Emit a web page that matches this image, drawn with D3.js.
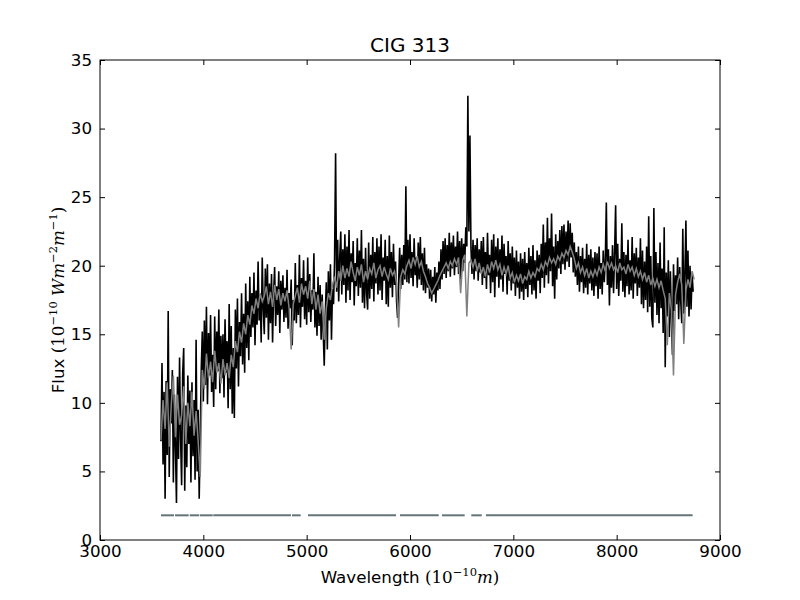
<!DOCTYPE html>
<html>
<head>
<meta charset="utf-8">
<script src="https://cdn.jsdelivr.net/npm/d3@7/dist/d3.min.js"></script>
<style>
  body { margin: 0; background: #fff; }
  svg { display: block; }
  text { font-family: "DejaVu Sans", sans-serif; }
</style>
</head>
<body>
<svg id="chart" width="800" height="600"></svg>
<script>
// ---------------- DATA ----------------
const title = "CIG 313";
const xTicks = [3000, 4000, 5000, 6000, 7000, 8000, 9000];
const yTicks = [0, 5, 10, 15, 20, 25, 30, 35];

// observed spectrum (black): sampled every 10 Å starting at 3590 Å
const obsStart = 3590, obsStep = 10;
const obsFlux = [
  7.2,12.9,5.5,10.8,3.0,11.6,6.2,16.7,4.6,11.0,
  8.5,12.4,4.2,10.6,6.8,2.7,11.9,5.9,13.3,7.4,
  4.0,12.1,14.0,3.6,9.8,5.3,12.0,7.0,10.9,4.2,
  11.5,6.1,10.2,4.4,14.6,5.0,9.5,3.0,7.5,12.5,
  15.2,10.1,16.0,11.3,17.0,9.9,15.1,12.0,16.4,10.8,
  13.5,9.7,16.3,11.0,15.2,12.3,16.8,10.7,14.9,11.8,
  15.0,10.4,16.1,12.2,14.5,9.6,17.2,11.0,15.6,9.2,
  14.0,8.9,16.8,12.5,17.6,11.2,15.9,13.4,18.0,12.8,
  16.5,12.2,18.7,14.0,17.4,13.1,19.2,14.8,18.0,15.5,
  19.5,14.2,18.2,15.7,20.3,16.0,17.9,14.4,20.6,16.8,
  15.0,19.8,16.2,20.1,14.6,18.7,15.8,19.4,14.4,17.9,
  19.9,15.6,18.5,16.4,19.6,15.1,18.9,16.8,19.3,15.9,
  18.4,16.2,19.7,15.4,18.0,16.9,19.0,14.2,17.5,16.0,
  20.2,15.8,18.6,16.4,20.8,15.5,19.1,17.0,20.4,16.1,
  18.9,15.7,20.6,16.6,19.4,15.9,18.2,16.8,20.9,15.5,
  18.1,14.9,19.2,15.6,18.6,14.6,17.9,15.2,12.7,16.4,
  18.8,13.9,19.6,16.0,20.1,14.6,18.3,17.2,20.4,28.2,
  18.1,21.9,17.4,20.6,22.5,17.9,21.2,18.6,22.3,17.3,
  21.4,18.2,22.6,17.5,20.9,18.8,21.8,17.1,20.2,18.5,
  22.0,17.8,21.1,18.4,22.6,17.3,20.5,16.9,21.3,18.0,
  16.8,21.7,17.6,20.8,18.3,22.1,17.4,21.0,18.7,22.0,
  17.9,21.4,18.2,22.3,17.5,20.6,18.9,21.9,17.2,20.7,
  17.0,22.2,18.4,21.0,17.7,21.6,18.6,20.3,17.4,16.2,
  18.9,21.3,18.3,20.8,18.6,21.5,19.0,25.8,18.8,21.9,
  18.7,22.3,19.1,21.0,18.5,22.0,19.3,20.6,18.4,21.7,
  19.0,22.1,18.6,20.9,18.2,21.3,18.0,20.1,18.4,19.8,
  17.6,19.7,17.4,19.2,17.9,19.9,17.3,19.5,18.2,20.3,
  18.3,21.2,19.0,21.8,19.4,22.0,19.1,21.5,19.6,22.4,
  19.2,21.7,19.8,22.2,19.3,21.4,19.9,22.5,19.4,21.8,
  19.0,22.0,19.6,21.6,20.2,22.8,21.4,32.4,22.5,29.5,
  21.3,19.4,21.9,19.0,21.5,19.6,22.0,18.9,21.2,19.5,
  21.8,18.6,22.1,19.1,21.0,18.3,22.4,19.3,20.8,18.0,
  21.9,18.8,22.3,17.7,21.4,19.2,22.0,18.4,21.2,19.0,
  22.2,18.1,21.6,19.4,20.7,17.9,21.8,18.9,20.9,18.2,
  21.4,18.7,20.6,17.8,21.1,18.4,20.3,17.6,20.9,18.1,
  20.5,17.5,21.0,18.3,20.2,17.7,21.3,18.6,20.7,17.9,
  21.5,18.2,20.4,17.6,21.1,18.9,20.8,18.0,21.6,19.1,
  23.0,18.4,21.7,19.3,23.5,18.7,22.0,19.6,23.8,18.5,
  21.4,17.6,22.3,19.0,21.8,19.8,22.6,19.4,22.9,20.1,
  23.0,19.7,22.5,20.3,23.3,19.9,23.1,20.6,22.4,19.5,
  21.7,19.2,21.0,18.6,21.4,18.1,20.7,18.8,21.3,18.0,
  20.5,18.4,21.6,17.9,20.8,18.7,21.2,18.2,20.6,17.8,
  21.0,18.5,20.9,17.6,21.4,18.3,20.2,17.9,21.1,18.8,
  20.4,24.6,18.6,21.2,17.1,20.7,18.4,21.5,18.0,20.9,
  24.4,18.3,21.6,17.8,20.5,18.9,23.1,18.1,21.0,17.7,
  20.8,18.5,21.9,17.9,20.4,18.2,22.1,17.6,20.9,18.7,
  21.3,17.8,20.6,18.4,22.0,17.2,21.1,16.9,20.3,17.5,
  21.4,16.6,23.6,17.0,20.7,16.2,15.5,24.2,17.3,21.0,
  16.4,20.2,15.8,21.7,16.9,19.8,15.1,22.8,12.6,19.5,
  16.3,20.4,14.8,19.6,16.0,13.5,20.1,16.7,19.3,17.2,
  20.6,16.1,19.9,17.4,15.8,22.7,16.5,19.2,23.3,17.0,
  21.1,16.3,20.0,16.8,19.4,18.1
];

// model / smoothed spectrum (grey): sampled every 20 Å starting at 3590 Å
const fitStart = 3590, fitStep = 20;
const fitFlux = [
  7.3,10.2,8.1,11.5,6.8,9.9,12.0,7.5,10.6,8.4,
  9.1,11.2,7.0,10.0,8.3,10.8,7.6,9.4,7.2,4.6,
  12.4,11.0,13.6,11.8,13.0,11.5,13.8,12.2,12.9,11.4,
  13.2,12.0,12.9,11.8,13.5,12.6,14.5,13.7,15.2,14.4,
  15.8,15.0,16.4,15.7,17.1,16.5,17.6,16.9,18.0,17.4,
  17.8,18.5,17.2,18.1,17.0,18.6,17.5,18.3,17.1,18.0,
  17.4,18.2,16.9,13.9,17.2,17.8,18.4,17.3,18.7,17.9,
  18.5,17.6,18.9,17.2,18.3,16.8,17.9,16.5,17.4,14.6,
  16.9,18.0,17.5,18.6,19.2,18.4,19.6,18.9,20.0,19.1,
  19.8,19.2,20.3,19.5,18.9,19.9,19.3,20.1,18.8,19.6,
  19.0,19.8,19.4,20.2,19.1,19.7,20.0,19.2,19.9,19.4,
  19.0,19.8,19.3,19.6,18.7,15.5,19.2,19.7,19.4,20.0,
  20.4,19.8,20.6,20.1,20.7,19.9,20.3,19.6,19.2,18.7,
  18.4,18.0,18.3,18.6,18.9,19.3,19.6,19.9,20.2,19.8,
  20.3,20.0,20.5,20.1,20.6,18.0,20.4,20.8,16.3,20.2,
  20.4,19.9,20.5,19.6,20.2,19.4,19.9,19.2,20.1,19.5,
  20.3,19.8,20.4,19.7,20.1,19.3,19.9,19.4,20.0,19.1,
  19.5,18.8,19.3,18.9,19.4,18.7,19.2,19.0,19.6,19.1,
  19.5,19.2,19.8,19.6,20.1,19.7,20.3,20.0,20.6,20.2,
  20.5,20.1,20.7,20.4,20.9,20.6,21.1,20.8,21.4,21.0,
  20.5,19.8,20.2,19.5,19.9,19.3,19.8,19.1,19.6,19.2,
  19.7,19.3,19.9,19.5,20.1,19.6,20.3,19.8,20.2,19.7,
  20.0,19.5,20.2,19.7,19.9,19.4,20.1,19.6,19.9,19.3,
  19.8,19.2,19.6,19.0,19.5,18.8,19.3,18.6,19.1,18.5,
  19.0,18.4,18.9,18.2,17.6,14.2,18.0,16.8,12.0,17.9,
  18.8,19.4,18.6,14.3,18.2,19.0,18.4,19.6,19.0
];

// good-pixel mask segments (wavelength ranges) drawn at constant level
const maskLevel = 1.8;
const maskSegments = [
  [3590, 3716], [3726, 3858], [3868, 3961], [3968, 4091], [4096, 4848],
  [4858, 4942], [5013, 5865], [5903, 6278], [6310, 6529], [6593, 6694],
  [6735, 8735]
];

// ---------------- CHART ----------------
const svg = d3.select("#chart");
const W = 800, H = 600;
const margin = { left: 100, right: 80, top: 60, bottom: 60 };
const x = d3.scaleLinear().domain([3000, 9000]).range([margin.left, W - margin.right]);
const y = d3.scaleLinear().domain([0, 35]).range([H - margin.bottom, margin.top]);

svg.append("rect").attr("width", W).attr("height", H).attr("fill", "#fff");

const obs = obsFlux.map((v, i) => ({ w: obsStart + i * obsStep, f: v }));
const fit = fitFlux.map((v, i) => ({ w: fitStart + i * fitStep, f: v }));

const line = d3.line().x(d => x(d.w)).y(d => y(d.f));

svg.append("clipPath").attr("id", "clip")
  .append("rect").attr("x", x(3000)).attr("y", y(35))
  .attr("width", x(9000) - x(3000)).attr("height", y(0) - y(35));

const plot = svg.append("g").attr("clip-path", "url(#clip)");

plot.append("path").datum(obs)
  .attr("d", line).attr("fill", "none")
  .attr("stroke", "#000").attr("stroke-width", 1.6)
  .attr("stroke-linejoin", "miter");

plot.append("path").datum(fit)
  .attr("d", line).attr("fill", "none")
  .attr("stroke", "#808080").attr("stroke-width", 1.5);

plot.selectAll("line.mask").data(maskSegments).enter().append("line")
  .attr("class", "mask")
  .attr("x1", d => x(d[0])).attr("x2", d => x(d[1]))
  .attr("y1", y(maskLevel)).attr("y2", y(maskLevel))
  .attr("stroke", "#647478").attr("stroke-width", 2);

// axes (matplotlib classic: inward ticks on all four sides)
const tickLen = 5;
const fontSize = "16.7px";

const xb = svg.append("g").attr("transform", `translate(0,${y(0)})`)
  .call(d3.axisBottom(x).tickValues(xTicks).tickSizeInner(-tickLen).tickSizeOuter(0).tickPadding(8).tickFormat(d3.format("d")));
const xt = svg.append("g").attr("transform", `translate(0,${y(35)})`)
  .call(d3.axisTop(x).tickValues(xTicks).tickSizeInner(-tickLen).tickSizeOuter(0).tickFormat(""));
const yl = svg.append("g").attr("transform", `translate(${x(3000)},0)`)
  .call(d3.axisLeft(y).tickValues(yTicks).tickSizeInner(-tickLen).tickSizeOuter(0).tickPadding(8).tickFormat(d3.format("d")));
const yr = svg.append("g").attr("transform", `translate(${x(9000)},0)`)
  .call(d3.axisRight(y).tickValues(yTicks).tickSizeInner(-tickLen).tickSizeOuter(0).tickFormat(""));

[xb, xt, yl, yr].forEach(g => {
  g.select(".domain").remove();
  g.selectAll(".tick line").attr("stroke", "#000").attr("stroke-width", 1);
  g.selectAll(".tick text").attr("font-family", "DejaVu Sans").attr("font-size", fontSize).attr("fill", "#000");
});
xb.selectAll(".tick text").attr("dy", "0.55em");
yl.selectAll(".tick text").attr("dy", "0.32em");

svg.append("rect")
  .attr("x", x(3000)).attr("y", y(35))
  .attr("width", x(9000) - x(3000)).attr("height", y(0) - y(35))
  .attr("fill", "none").attr("stroke", "#000").attr("stroke-width", 1);

// title
svg.append("text")
  .attr("x", (x(3000) + x(9000)) / 2).attr("y", y(35) - 8)
  .attr("text-anchor", "middle").attr("font-size", "20px")
  .text(title);

// x label with math
const serif = "DejaVu Serif";
const xlab = svg.append("text")
  .attr("x", (x(3000) + x(9000)) / 2).attr("y", 583)
  .attr("text-anchor", "middle").attr("font-size", fontSize);
xlab.append("tspan").text("Wavelength ");
xlab.append("tspan").attr("font-family", serif).text("(10");
xlab.append("tspan").attr("font-family", serif).attr("font-size", "11.5px").attr("dy", "-7").text("−10");
xlab.append("tspan").attr("font-family", serif).attr("font-style", "italic").attr("dy", "7").text("m");
xlab.append("tspan").attr("font-family", serif).text(")");

// y label with math
const ylab = svg.append("text")
  .attr("transform", `translate(64,${(y(0) + y(35)) / 2}) rotate(-90)`)
  .attr("text-anchor", "middle").attr("font-size", fontSize);
ylab.append("tspan").text("Flux ");
ylab.append("tspan").attr("font-family", serif).text("(10");
ylab.append("tspan").attr("font-family", serif).attr("font-size", "11.5px").attr("dy", "-7").text("−10");
ylab.append("tspan").attr("font-family", serif).attr("font-style", "italic").attr("dy", "7").text(" Wm");
ylab.append("tspan").attr("font-family", serif).attr("font-size", "11.5px").attr("dy", "-7").text("−2");
ylab.append("tspan").attr("font-family", serif).attr("font-style", "italic").attr("dy", "7").text("m");
ylab.append("tspan").attr("font-family", serif).attr("font-size", "11.5px").attr("dy", "-7").text("−1");
ylab.append("tspan").attr("font-family", serif).attr("dy", "7").text(")");
</script>
</body>
</html>
